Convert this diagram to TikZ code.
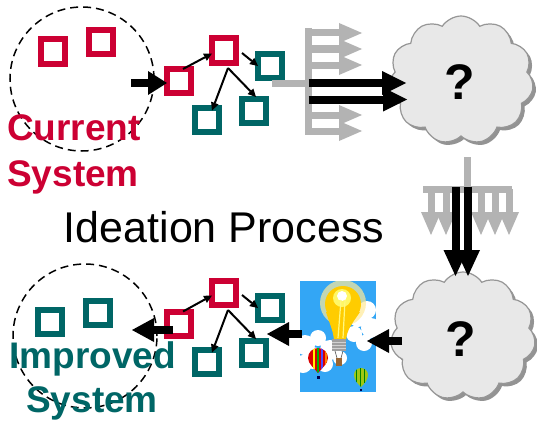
\documentclass[tikz,border=0pt]{standalone}
\usepackage{fontspec}
\setmainfont{Liberation Sans}
\usetikzlibrary{arrows.meta,shapes.symbols,shadows,calc}
\definecolor{sysred}{RGB}{204,0,51}
\definecolor{systeal}{RGB}{0,102,102}
\definecolor{forkgray}{RGB}{179,179,179}
\definecolor{cloudfill}{RGB}{232,232,232}
\definecolor{cloudline}{RGB}{150,150,150}
\definecolor{sky}{RGB}{51,166,245}
\definecolor{bulbyellow}{RGB}{255,204,0}
\definecolor{lime}{RGB}{160,200,20}

\begin{document}
\begin{tikzpicture}[x=1pt,y=-1pt,
  box/.style={draw,line width=6pt,minimum size=24pt,inner sep=0pt,outer sep=0pt},
  redbox/.style={box,draw=sysred},
  tealbox/.style={box,draw=systeal},
  link/.style={line width=2pt,-{Triangle[length=8pt,width=8pt,line width=0pt]}},
  bigarrow/.style={line width=8pt,-{Triangle[length=#1,width=24pt,line width=0pt]}},
  bigarrow/.default=22pt,
  forkline/.style={draw=forkgray,line width=7pt},
  forkarrow/.style={draw=forkgray,line width=7pt,-{Triangle[length=23pt,width=20pt,line width=0pt]}},
  boundary/.style={draw,circle,minimum size=144pt,inner sep=0pt,line width=1.5pt,dash pattern=on 8pt off 5pt},
  sysname/.style={font=\bfseries\fontsize{37}{44}\selectfont,anchor=base,inner sep=0pt},
  thought/.style={cloud,cloud puffs=11,cloud puff arc=115,aspect=1.1,draw=cloudline,line width=1.2pt,
    fill=cloudfill,minimum width=145pt,minimum height=128pt,inner sep=0pt,
    drop shadow={shadow xshift=3pt,shadow yshift=-3pt,fill=gray!85,opacity=1}},
  qmark/.style={font=\bfseries\fontsize{50}{50}\selectfont,inner sep=0pt}
]
\fill[white] (0,0) rectangle (537,420);
\useasboundingbox (0,0) rectangle (537,420);

% ---------- current system ----------
\node[boundary] (cur) at (82,79) {};
\node[redbox] (c1) at (52.5,51.5) {};
\node[redbox] (c2) at (101,42) {};
\node[sysname,text=sysred] (curA) at (74,140) {Current};
\node[sysname,text=sysred] (curB) at (73,186.5) {System};

\node[redbox] (r1) at (179,81) {};
\node[redbox] (r2) at (224,50.5) {};
\node[tealbox] (t1) at (270,66) {};
\node[tealbox] (t2) at (207,119.5) {};
\node[tealbox] (t3) at (254,111) {};

\coordinate (inA) at (131,83);
\draw[bigarrow=19pt] (inA) -- ([yshift=-2pt]r1.west);
\coordinate (r2foot) at ($(r2.south)+(4,5.5)$);
\draw[link] ([xshift=4pt]r1.north) -- ([yshift=-3pt]r2.west);
\draw[link] ([xshift=6pt,yshift=-2.5pt]r2.east) -- (t1.west);
\draw[link] (r2foot) -- ([xshift=5pt,yshift=-3pt]t2.north);
\draw[link] (r2foot) -- ([xshift=2pt,yshift=2pt]t3.north);

% ---------- clouds ----------
\node[thought] (q1) at (461,80) {};
\node[qmark] at (460,82) {?};
\node[thought] (q2) at (463,336) {};
\node[qmark] at (461,339) {?};

% ---------- divergent fork ----------
\coordinate (tap) at ($(t1.south)+(2,5.5)$);
\coordinate (barT) at (308.5,28);
\coordinate (barB) at (308.5,135);
\draw[forkline] (tap) -- (barT |- tap);
\draw[forkline] (barT) -- (barB);
\foreach \y in {33,49,65,115,131}
  \draw[forkarrow] (barT |- 0,\y) -- (362,\y);
\draw[bigarrow=24pt] (barT |- 0,83) -- ($(q1.center)+(-55,3)$);
\draw[bigarrow=24pt] (barT |- 0,99.5) -- ($(q1.center)+(-54,19.5)$);

% ---------- convergent fork ----------
\coordinate (stemT) at (467.5,157);
\coordinate (stemB) at (467.5,189);
\coordinate (vbarL) at (423,189);
\coordinate (vbarR) at (512,189);
\draw[forkline] (stemT) -- (stemB);
\draw[forkline] (vbarL) -- (vbarR);
\foreach \x in {431,446,481,495,509}
  \draw[forkarrow] (\x,189) -- (\x,235);
\draw[bigarrow=26pt] (455.5,187) -- ($(q2.center)+(-7.5,-60)$);
\draw[bigarrow=26pt] (468,187) -- ($(q2.center)+(5,-60)$);

\node[font=\fontsize{43}{50}\selectfont,anchor=base,inner sep=0pt] (proc) at (224,242) {Ideation Process};

% ---------- idea picture ----------
\node[fill=sky,minimum width=76pt,minimum height=111pt,inner sep=0pt,outer sep=0pt] (idea) at (338,336.5) {};
\begin{scope}
  \clip (idea.south west) rectangle (idea.north east);
  % white clouds
  \fill[white] (358,318) circle (9) (367,310) circle (9) (371,328) circle (10)
               (354,334) circle (8) (364,343) circle (8);
  \fill[white] (305,345) circle (10) (318,338) circle (8) (330,350) circle (10)
               (313,358) circle (11) (303,364) circle (9) (325,364) circle (8) (340,358) circle (7);
  % bulb glow and glass
  \fill[bulbyellow!40,opacity=0.7] (343,303) circle (23);
  \fill[bulbyellow] (343,304) circle (18);
  \fill[bulbyellow] (326,312) .. controls (330,325) and (333,330) .. (334,340)
     -- (346,340) .. controls (347,330) and (351,325) .. (360,312) -- cycle;
  \fill[yellow!60!white] (342,298) circle (9);
  \fill[white] (342,296) circle (5);
  \draw[yellow!50!white,line width=1.2pt] (341,300) -- (338,338);
  \draw[yellow!50!white,line width=1.2pt] (345,300) -- (343,338);
  % screw base and basket
  \fill[gray!75] (332,339) rectangle (346,351);
  \foreach \s in {342,345,348}
    \draw[gray!35,line width=0.8pt] (332,\s) -- (346,\s);
  \draw[gray!60!black,line width=0.6pt] (335,351) -- (337,358) (343,351) -- (341,358);
  \fill[brown!80!black] (336,358) rectangle (342,366);
  % striped balloon
  \begin{scope}
    \clip (308,358) arc (180:360:10) .. controls (328,364) and (321,369) .. (318,373)
          .. controls (315,369) and (308,364) .. (308,358) -- cycle;
    \fill[red!85!black] (306,345) rectangle (330,375);
    \fill[yellow] (313,345) rectangle (315,375);
    \fill[green!70!black] (317,345) rectangle (319,375);
    \fill[blue!70] (321,345) rectangle (323,375);
    \fill[orange] (325,345) rectangle (327,375);
  \end{scope}
  \fill[blue!30!black] (316.5,376) rectangle (319.5,379);
  % green balloon
  \begin{scope}
    \clip (354,375) arc (180:360:7) .. controls (368,380) and (364,384) .. (361,387)
          .. controls (358,384) and (354,380) .. (354,375) -- cycle;
    \fill[lime] (352,366) rectangle (370,390);
    \foreach \g in {356,360,364}
      \draw[green!50!black,line width=0.6pt] (\g,366) -- (\g,390);
  \end{scope}
  \fill[blue!30!black] (360,389) rectangle (362,391);
\end{scope}

% ---------- improved system ----------
\node[boundary] (imp) at (85,336) {};
\node[tealbox] (i1) at (50,322) {};
\node[tealbox] (i2) at (98,313) {};
\node[sysname,text=systeal] (impA) at (92.5,368.5) {Improved};
\node[sysname,text=systeal] (impB) at (92,412) {System};

\node[redbox] (br1) at (179,323.5) {};
\node[redbox] (br2) at (224,292.5) {};
\node[tealbox] (bt1) at (270,308) {};
\node[tealbox] (bt2) at (207,361.5) {};
\node[tealbox] (bt3) at (254,353) {};

\coordinate (br2foot) at ($(br2.south)+(4,5.5)$);
\draw[link] ([xshift=4pt]br1.north) -- ([yshift=-3pt]br2.west);
\draw[link] ([xshift=6pt,yshift=-2.5pt]br2.east) -- (bt1.west);
\draw[link] (br2foot) -- ([xshift=5pt,yshift=-3pt]bt2.north);
\draw[link] (br2foot) -- ([xshift=2pt,yshift=2pt]bt3.north);

\coordinate (impin) at (132,330);
\draw[bigarrow] ([xshift=-6pt,yshift=-6.5pt]br1.center) -- (impin);
\draw[bigarrow] ([xshift=2pt,yshift=2.5pt]idea.west) -- ([xshift=13pt,yshift=19pt]bt3.center);
\draw[bigarrow] ($(q2.center)+(-61,5)$) -- ([xshift=-9pt,yshift=-4.5pt]idea.east);
\end{tikzpicture}
\end{document}
